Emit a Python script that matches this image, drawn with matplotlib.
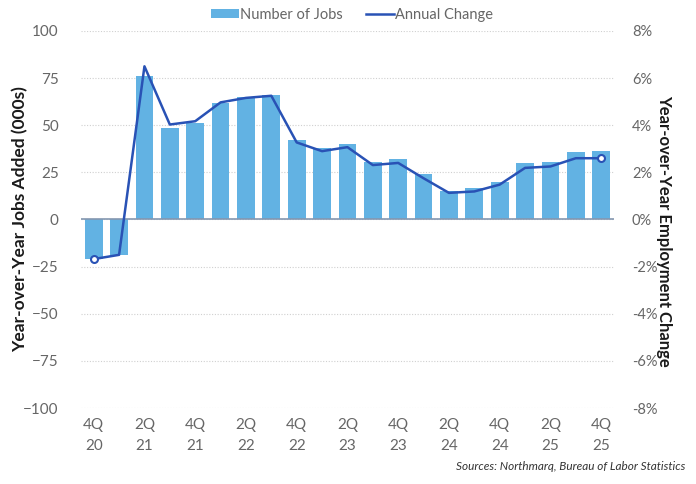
import matplotlib
matplotlib.use("Agg")
import matplotlib.pyplot as plt
from matplotlib.lines import Line2D
from matplotlib.patches import Patch
from matplotlib.ticker import FuncFormatter

# 季度标签（4Q20 ~ 4Q25，共 21 个季度）
quarters = ["4Q\n20", "1Q\n21", "2Q\n21", "3Q\n21", "4Q\n21", "1Q\n22", "2Q\n22",
            "3Q\n22", "4Q\n22", "1Q\n23", "2Q\n23", "3Q\n23", "4Q\n23", "1Q\n24",
            "2Q\n24", "3Q\n24", "4Q\n24", "1Q\n25", "2Q\n25", "3Q\n25", "4Q\n25"]

# 新增就业人数（千人）
jobs_added = [-21, -19, 76, 48.5, 51, 62, 65, 66, 42, 38, 40, 30.6, 32, 24,
              15, 16.5, 20, 30, 30.6, 36, 36.4]

# 年度变化（%）
annual_change = [-1.68, -1.5, 6.5, 4.03, 4.17, 4.97, 5.16, 5.25, 3.27, 2.9, 3.07,
                 2.31, 2.4, 1.75, 1.13, 1.19, 1.48, 2.19, 2.25, 2.6, 2.6]

bar_color = "#62B2E3"
line_color = "#2952B5"
text_color = "#666666"

plt.rcParams["font.family"] = ["Lato", "DejaVu Sans"]

fig = plt.figure(figsize=(6.96, 4.84), dpi=100)
ax = fig.add_axes([0.1164, 0.157, 0.7656, 0.779])
ax2 = ax.twinx()

x = list(range(len(quarters)))

# 柱状图
ax.bar(x, jobs_added, width=0.7, color=bar_color, zorder=2)
ax.axhline(0, color="#8497B0", linewidth=1.2, zorder=3)

# 折线
ax2.plot(x, annual_change, color=line_color, linewidth=1.8, zorder=4)
ax2.plot([x[0], x[-1]], [annual_change[0], annual_change[-1]], linestyle="none",
         marker="o", markersize=5, markerfacecolor="white",
         markeredgecolor=line_color, markeredgewidth=1.5, zorder=5)

ax.set_xlim(-0.5, len(quarters) - 0.5)
ax.set_ylim(-100, 100)
ax.set_yticks(range(-100, 101, 25))
ax2.set_ylim(-8, 8)
ax2.set_yticks(range(-8, 9, 2))
ax2.yaxis.set_major_formatter(FuncFormatter(lambda v, p: f"{v:.0f}%"))

ax.set_xticks(x[::2])
ax.set_xticklabels(quarters[::2], linespacing=1.7)

ax.grid(axis="y", linestyle=(0, (1, 1.5)), color="#D0D0D0", linewidth=0.8, zorder=0)
ax.set_axisbelow(True)

for a in (ax, ax2):
    for s in a.spines.values():
        s.set_visible(False)
    a.tick_params(length=0, labelsize=11, labelcolor=text_color)

ax.tick_params(axis="y", pad=16)
ax2.tick_params(axis="y", pad=13, labelsize=10.5)
ax.tick_params(axis="x", pad=7)

# 轴标题位置按参考图手动定位
ax.set_ylabel("Year-over-Year Jobs Added (000s)", fontsize=12.5, fontweight="bold",
              color="#1A1A1A", va="center")
ax.yaxis.set_label_coords(-0.114, 0.5)
ax2.set_ylabel("Year-over-Year Employment Change", fontsize=12, fontweight="bold",
               color="#1A1A1A", rotation=270, va="center")
ax2.yaxis.set_label_coords(1.095, 0.47)

handles = [Patch(facecolor=bar_color, label="Number of Jobs"),
           Line2D([0], [0], color=line_color, linewidth=1.8, label="Annual Change")]
leg = fig.legend(handles=handles, loc="center", bbox_to_anchor=(0.506, 0.969), ncol=2,
                 frameon=False, fontsize=10.5, handlelength=1.9, handleheight=0.55,
                 handletextpad=0.1, columnspacing=1.6)
for t in leg.get_texts():
    t.set_color(text_color)

fig.text(0.985, 0.025, "Sources: Northmarq, Bureau of Labor Statistics", ha="right",
         va="bottom", fontsize=8.5, style="italic", color="#333333")

fig.savefig("out.png", dpi=100)
